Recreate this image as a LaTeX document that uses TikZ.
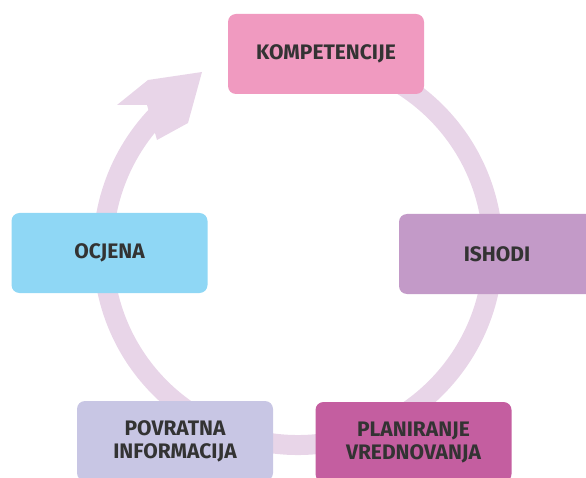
\documentclass[tikz,border=0pt]{standalone}
\usepackage{fontspec}
\setmainfont{Fira Sans}
\usepackage{tikz}
\definecolor{ring}{RGB}{232, 213, 232}
\definecolor{komp}{RGB}{240, 154, 192}
\definecolor{ishodi}{RGB}{195, 154, 200}
\definecolor{ocjena}{RGB}{143, 215, 245}
\definecolor{povratna}{RGB}{200, 198, 228}
\definecolor{planiranje}{RGB}{196, 94, 160}
\definecolor{txt}{RGB}{51, 51, 51}

\begin{document}
\begin{tikzpicture}[x=1pt, y=1pt,
  box/.style={rounded corners=8pt, minimum width=196pt, minimum height=80pt, inner sep=0pt,
    align=center, text=txt, font=\bfseries\fontsize{21}{23}\selectfont}]
  \useasboundingbox (0, 0) rectangle (586, 477);
  \clip (0, 0) rectangle (586, 477);

  % ring and its arrow head
  \draw[ring, line width=20] (298, 227) ++(100:195) arc[start angle=100, end angle=-224, radius=195];
  \fill[ring] (147, 372) -- (117, 372) -- (148, 397) -- (202, 405) -- (188, 354) -- (157, 337) -- cycle;

  \foreach \n/\x/\y/\c/\t in {komp/326/423/komp/KOMPETENCIJE, ishodi/497/223/ishodi/ISHODI, planiranje/413.5/35/planiranje/{PLANIRANJE\\VREDNOVANJA}, povratna/175/36/povratna/{POVRATNA\\INFORMACIJA}, ocjena/109.5/224/ocjena/OCJENA} {
    \node[box, fill=\c] (\n) at (\x, \y) {\t};
  }
\end{tikzpicture}
\end{document}
